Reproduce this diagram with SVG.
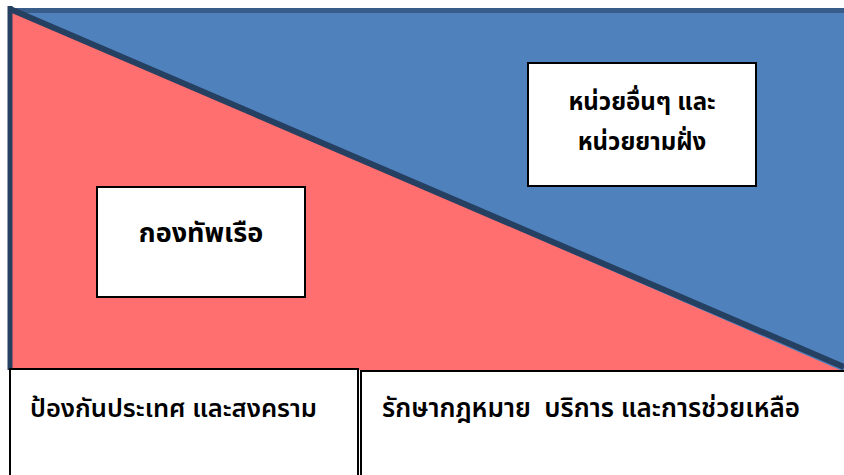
<svg xmlns="http://www.w3.org/2000/svg" width="844" height="475" viewBox="0 0 844 475">
<style>
.box{fill:#fff;stroke:#000;stroke-width:2}
.t{font-family:"Noto Sans Thai","Noto Sans","Liberation Sans",sans-serif;fill:#000;white-space:pre}
.b{font-weight:bold}
</style>
<g id="background">
<rect x="8" y="8" width="836" height="362" fill="#4F81BD"/>
<rect x="8" y="8" width="836" height="5" fill="#385D8A"/>
<polygon points="8,8 840,370 8,370" fill="#FF6F6F"/>
<line x1="10" y1="9" x2="844" y2="367" stroke="#254061" stroke-width="6"/>
<line x1="10" y1="6" x2="10" y2="370" stroke="#254061" stroke-width="5"/>
</g>
<g id="navy">
<rect class="box" x="97" y="187" width="208" height="110"/>
<text class="t b" x="201" y="242" font-size="27" text-anchor="middle" font-family="'Liberation Serif',serif">กองทัพเรือ</text>
</g>
<g id="coastguard">
<rect class="box" x="528" y="63" width="228" height="123"/>
<text class="t b" x="642" y="110" font-size="24" text-anchor="middle">หน่วยอื่นๆ และ</text>
<text class="t b" x="642" y="150" font-size="24" text-anchor="middle">หน่วยยามฝั่ง</text>
</g>
<g id="defense">
<rect class="box" x="10" y="369" width="348" height="110"/>
<text class="t" x="30" y="417" font-size="25.5" font-weight="600">ป้องกันประเทศ และสงคราม</text>
</g>
<g id="law">
<rect class="box" x="361" y="371" width="490" height="110"/>
<text class="t" x="382" y="417" font-size="26" font-weight="600" xml:space="preserve">รักษากฎหมาย  บริการ และการช่วยเหลือ</text>
</g>
<g id="connectors"/>
</svg>
